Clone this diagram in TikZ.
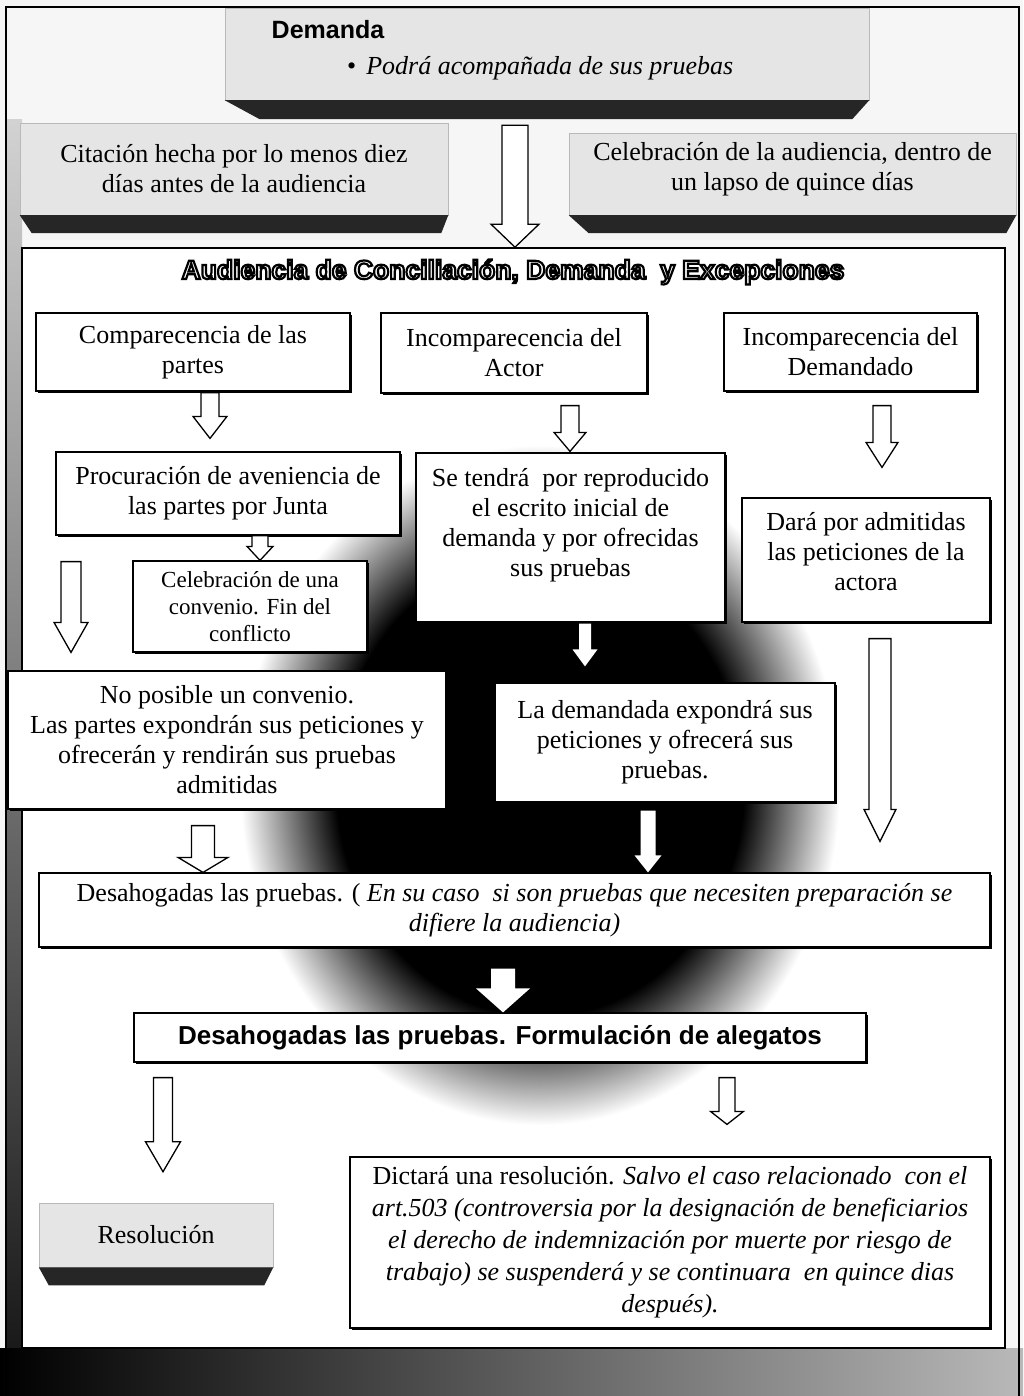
\documentclass[tikz,border=0pt]{standalone}
\usepackage{fontspec}
\setmainfont{Liberation Serif}
\setsansfont{Liberation Sans}
\usetikzlibrary{calc,shadows}

% dark core that fades to white at the rim of the filled ellipse
\pgfdeclareradialshading{darkcore}{\pgfpoint{0bp}{0bp}}{color(0bp)=(black); color(17bp)=(black); color(25bp)=(white); color(50bp)=(white)}

% outlined lettering: white fill, black stroke
\newcommand\outlinetext[1]{\special{pdf:literal direct 2 Tr 2.2 w 1 g 0 G}#1\special{pdf:literal direct 0 Tr 0 g 0 G}}

% hollow / solid block arrow from one node to another along a named column
% #1 style, #2 start anchor, #3 end anchor, #4 column coordinate, #5 start gap, #6 end gap
\newcommand\blockarrow[6][]{%
  \path[#1] let \p1=(#2), \p2=(#3), \p3=(#4) in
    (\x3-\ash,\y1-#5pt) -- (\x3+\ash,\y1-#5pt) -- (\x3+\ash,\y2+#6pt+\ahl)
    -- (\x3+\ahh,\y2+#6pt+\ahl) -- (\x3,\y2+#6pt) -- (\x3-\ahh,\y2+#6pt+\ahl)
    -- (\x3-\ash,\y2+#6pt+\ahl) -- cycle;}
\def\ash{9pt}\def\ahh{17pt}\def\ahl{22pt}

\begin{document}
\begin{tikzpicture}[x=1pt,y=-1pt,
  body/.style={font=\fontsize{26}{30}\selectfont, align=center, inner sep=0pt},
  wbox/.style={body, draw, line width=1.2pt, fill=white,
    drop shadow={shadow xshift=2pt,shadow yshift=-2pt,fill=black,opacity=1}},
  gbox/.style={body, draw=gray!55, line width=0.5pt, fill=gray!20},
  base/.style={fill=black!85},
  hollow/.style={draw, line width=1.3pt, fill=white, line join=miter},
  solidwhite/.style={fill=white},
  arrow size/.code n args={3}{\def\ash{#1pt}\def\ahh{#2pt}\def\ahl{#3pt}},
]
\useasboundingbox (0,0) rectangle (1023,1396);

% paper, margin strip and bottom band
\fill[gray!7] (0,0) rectangle (1023,1396);
\shade[top color=gray!35, bottom color=black!90] (6,120) rectangle (22,1348);
\shade[left color=black, middle color=black!95, right color=gray!55] (0,1348) rectangle (1023,1396);
\draw[line width=1.5pt] (6,1396) -- (6,7) -- (1019,7) -- (1019,1396);

% heading boxes
\node[gbox, minimum width=644pt, minimum height=92pt] (dem) at (547,54) {};
\fill[base] (dem.south west) -- (dem.south east) -- ([xshift=-17pt,yshift=-19pt]dem.south east)
  -- ([xshift=35pt,yshift=-19pt]dem.south west) -- cycle;
\node[font=\sffamily\bfseries\fontsize{25}{30}\selectfont] (demt) at (328,30) {Demanda};
\node[body, anchor=west] (demb) at (347,68) {\textbullet\hspace{10pt}\textit{Podrá acompañada de sus pruebas}};

\node[gbox, minimum width=428pt, minimum height=92pt] (cit) at (234,169)
  {Citación hecha por lo menos diez\\días antes de la audiencia};
\fill[base] (cit.south west) -- (cit.south east) -- ([xshift=-7pt,yshift=-18pt]cit.south east)
  -- ([xshift=12pt,yshift=-18pt]cit.south west) -- cycle;

\node[gbox, minimum width=447pt, minimum height=82pt] (cel) at (792.5,174)
  {Celebración de la audiencia, dentro de\\un lapso de quince días\\[-15pt]\mbox{}};
\fill[base] (cel.south west) -- (cel.south east) -- ([xshift=-10pt,yshift=-18pt]cel.south east)
  -- ([xshift=20pt,yshift=-18pt]cel.south west) -- cycle;

% hearing frame
\node[draw, line width=1.6pt, fill=white, minimum width=983pt, minimum height=1100pt, inner sep=0pt]
  (aud) at (513.5,798) {};
\shade[shading=darkcore] (540,785) ellipse [x radius=300pt, y radius=340pt];
\node[font=\sffamily\bfseries\fontsize{26.5}{30}\selectfont] (ttl) at (513,272)
  {\outlinetext{Audiencia de Conciliación, Demanda\ \ y Excepciones}};

% steps
\node[wbox, minimum width=314pt, minimum height=78pt] (cmp) at (193,352) {Comparecencia de las\\partes};
\node[wbox, minimum width=266pt, minimum height=80pt] (iac) at (514,353) {Incomparecencia del\\Actor};
\node[wbox, minimum width=253pt, minimum height=78pt] (idm) at (850.5,352) {Incomparecencia del\\Demandado};

\node[wbox, minimum width=344pt, minimum height=83pt] (prc) at (228,493.5)
  {Procuración de aveniencia de\\las partes por Junta};
\node[wbox, minimum width=309pt, minimum height=169pt] (rep) at (570.5,537.5)
  {Se tendrá\ \ por reproducido\\el escrito inicial de\\demanda y por ofrecidas\\sus pruebas\\\mbox{}};
\node[wbox, minimum width=248pt, minimum height=124pt] (adm) at (866,560)
  {Dará por admitidas\\las peticiones de la\\actora\\[-12pt]\mbox{}};
\node[wbox, minimum width=234pt, minimum height=91pt, font=\fontsize{23}{27}\selectfont] (cnv) at (250,606.5)
  {Celebración de una\\convenio. Fin del\\conflicto};
\node[wbox, minimum width=438pt, minimum height=138pt] (nop) at (227,740)
  {No posible un convenio.\\Las partes expondrán sus peticiones y\\ofrecerán y rendirán sus pruebas\\admitidas};
\node[wbox, minimum width=340pt, minimum height=119pt] (dmd) at (665,742.5)
  {La demandada expondrá sus\\peticiones y ofrecerá sus\\pruebas.};
\node[wbox, minimum width=951pt, minimum height=74pt] (dsh) at (514.5,910)
  {Desahogadas las pruebas. ( \textit{En su caso\ \ si son pruebas que necesiten preparación se}\\\textit{difiere la audiencia)}};
\node[wbox, minimum width=732pt, minimum height=49pt, font=\sffamily\bfseries\fontsize{26}{30}\selectfont] (alg) at (500,1037.5)
  {Desahogadas las pruebas. Formulación de alegatos};

\node[gbox, minimum width=234pt, minimum height=64pt] (res) at (156,1235) {Resolución};
\fill[base] (res.south west) -- (res.south east) -- ([xshift=-9pt,yshift=-18pt]res.south east)
  -- ([xshift=10pt,yshift=-18pt]res.south west) -- cycle;
\node[wbox, minimum width=640pt, minimum height=171pt, font=\fontsize{26}{32}\selectfont] (dic) at (670,1242.5)
  {Dictará una resolución. \textit{Salvo el caso relacionado\ \ con el}\\
   \textit{art.503 (controversia por la designación de beneficiarios}\\
   \textit{el derecho de indemnización por muerte por riesgo de}\\
   \textit{trabajo) se suspenderá y se continuara\ \ en quince dias}\\
   \textit{después).}};

% arrow columns
\coordinate (cA) at (515,0);
\coordinate (cB) at (210,0);
\coordinate (cC) at (570,0);
\coordinate (cD) at (882,0);
\coordinate (cE) at (260,0);
\coordinate (cF) at (71,0);
\coordinate (cG) at (585,0);
\coordinate (cH) at (880,0);
\coordinate (cI) at (203,0);
\coordinate (cJ) at (648,0);
\coordinate (cK) at (503,0);
\coordinate (cL) at (163,0);
\coordinate (cM) at (727,0);

% arrows
\blockarrow[hollow, arrow size={13}{24}{23}]{dem.south}{aud.north}{cA}{25}{0}
\blockarrow[hollow, arrow size={9}{17}{22}]{cmp.south}{prc.north}{cB}{1}{13}
\blockarrow[hollow, arrow size={9}{16}{19}]{iac.south}{rep.north}{cC}{12}{1}
\blockarrow[hollow, arrow size={9}{16}{25}]{idm.south}{adm.north}{cD}{14}{30}
\blockarrow[hollow, arrow size={8}{13}{14}]{prc.south}{cnv.north}{cE}{0}{0}
\blockarrow[hollow, arrow size={10}{17}{30}]{prc.south}{nop.north}{cF}{26}{18}
\blockarrow[solidwhite, arrow size={6}{12.5}{17}]{rep.south}{dmd.north}{cG}{1}{16}
\blockarrow[hollow, arrow size={11}{16}{32}]{adm.south}{dsh.north}{cH}{16}{31}
\blockarrow[hollow, arrow size={11.5}{25}{15}]{nop.south}{dsh.north}{cI}{16}{0}
\blockarrow[solidwhite, arrow size={7.5}{13.5}{17}]{dmd.south}{dsh.north}{cJ}{8}{0}
\blockarrow[solidwhite, arrow size={12}{27}{24}]{dsh.south}{alg.north}{cK}{21}{0}
\blockarrow[hollow, arrow size={9.5}{17.5}{30}]{alg.south}{res.north}{cL}{15}{31}
\blockarrow[hollow, arrow size={8}{16.5}{13}]{alg.south}{dic.north}{cM}{15}{32}
\end{tikzpicture}
\end{document}
